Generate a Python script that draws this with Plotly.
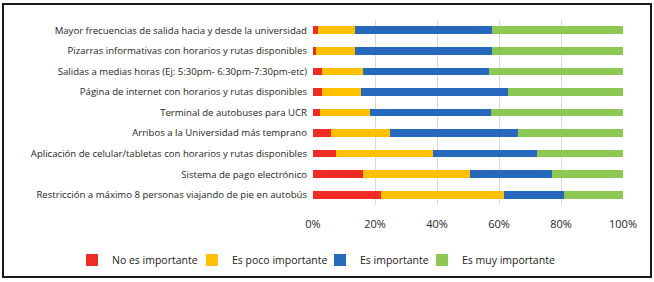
import plotly.graph_objects as go

categories = [
    "Mayor frecuencias de salida hacia y desde la universidad",
    "Pizarras informativas con horarios y rutas disponibles",
    "Salidas a medias horas (Ej: 5:30pm- 6:30pm-7:30pm-etc)",
    "Página de internet con horarios y rutas disponibles",
    "Terminal de autobuses para UCR",
    "Arribos a la Universidad más temprano",
    "Aplicación de celular/tabletas con horarios y rutas disponibles",
    "Sistema de pago electrónico",
    "Restricción a máximo 8 personas viajando de pie en autobús",
]
no_importante = [1.6, 1.1, 2.8, 3.0, 2.2, 5.9, 7.3, 16.0, 22.0]
poco_importante = [11.8, 12.6, 13.3, 12.6, 16.3, 19.0, 31.4, 34.5, 39.5]
importante = [44.5, 44.2, 40.6, 47.3, 39.0, 41.1, 33.7, 26.6, 19.4]
muy_importante = [42.1, 42.1, 43.3, 37.1, 42.5, 34.0, 27.6, 22.9, 19.1]
tick_vals = [0, 0.2, 0.4, 0.6, 0.8, 1.0]
tick_text = ["0%", "20%", "40%", "60%", "80%", "100%"]

series = [
    ("No es importante", no_importante, "#EE2B24"),
    ("Es poco importante", poco_importante, "#FFC000"),
    ("Es importante", importante, "#2668BC"),
    ("Es muy importante", muy_importante, "#8CC853"),
]
totals = [sum(v) for v in zip(no_importante, poco_importante, importante, muy_importante)]

W, H = 654, 282
legend_text_x = [112, 232, 360, 462]  # px where legend text starts
legend_names = ["legend", "legend2", "legend3", "legend4"]

fig = go.Figure()
for (name, vals, color), lg in zip(series, legend_names):
    fig.add_trace(go.Bar(
        y=categories, x=[v / t for v, t in zip(vals, totals)], name=name,
        orientation="h", marker=dict(color=color, line=dict(width=0)),
        legend=lg,
    ))

legend_common = dict(orientation="h", xref="container", yref="container",
                     xanchor="left", yanchor="middle", y=1 - 260 / H,
                     font=dict(family="Open Sans", size=10.5, color="#1a1a1a"),
                     itemwidth=30, bgcolor="rgba(0,0,0,0)", borderwidth=0)
legends = {}
for lg, tx in zip(legend_names, legend_text_x):
    legends[lg] = dict(legend_common, x=(tx - 40) / W)

fig.update_layout(
    barmode="stack",
    bargap=0.63,
    width=W, height=H,
    margin=dict(l=313, r=31, t=20, b=77, autoexpand=False),
    paper_bgcolor="white", plot_bgcolor="white",
    font=dict(family="Open Sans", size=9.6, color="#262626"),
    showlegend=True,
    xaxis=dict(range=[0, 1], tickvals=tick_vals, ticktext=tick_text,
               showgrid=True, gridcolor="#D9D9D9", gridwidth=1, zeroline=False,
               showline=False, ticks="", tickfont=dict(size=11, color="#262626"),
               ticklabelstandoff=11, fixedrange=True),
    yaxis=dict(autorange="reversed", showgrid=False, showline=False, ticks="",
               ticklabelstandoff=5, tickfont=dict(size=9.6, color="#262626")),
    shapes=[dict(type="rect", xref="paper", yref="paper",
                 x0=(3 - 313) / 310, x1=(651 - 313) / 310,
                 y0=(205 - 277) / 185, y1=(205 - 4) / 185,
                 line=dict(color="#1a1a1a", width=2), fillcolor="rgba(0,0,0,0)")],
    **legends,
)

fig.write_html("out.html", config={"displayModeBar": False},
               post_script="document.body.style.margin='0';")
